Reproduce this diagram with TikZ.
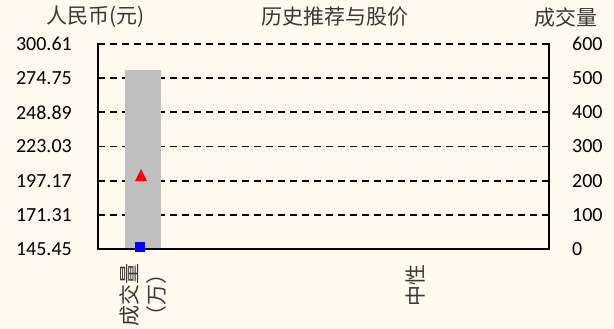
\documentclass[tikz,border=0pt]{standalone}
\usepackage{fontspec}
\setmainfont{Carlito}
\newfontfamily\cjkfont{Noto Sans CJK SC}
\definecolor{bgcream}{HTML}{FEFAEF}
\definecolor{bargray}{HTML}{BFBFBF}
\definecolor{cjkgray}{HTML}{383838}
\begin{document}
\begin{tikzpicture}[x=1pt,y=-1pt,
  numlab/.style={font=\fontsize{20}{24}\selectfont, text=black, inner sep=0pt},
  cjklab/.style={font=\cjkfont\fontsize{21}{27}\selectfont, text=cjkgray, inner sep=0pt},
  gridline/.style={line width=1.8pt, dash pattern=on 7pt off 5pt},
  axisline/.style={line width=2pt, line cap=rect}]
\useasboundingbox[fill=bgcream] (0,0) rectangle (614,329);
% grid
\foreach \yy in {44,78.17,112.33,146.5,180.67,214.83}
  \draw[gridline] (98,\yy) -- (549,\yy);
% bar
\fill[bargray] (125,70) rectangle (161,249);
% axes
\draw[axisline] (98,44) -- (98,249) -- (549,249) -- (549,44);
% markers
\fill[red] (141,169) -- (147,181) -- (135,181) -- cycle;
\fill[blue] (135,242) rectangle (145,252);
% left tick labels
\foreach \yy/\tx in {44/300.61,78.17/274.75,112.33/248.89,146.5/223.03,180.67/197.17,214.83/171.31,249/145.45}
  \node[numlab, anchor=east] at (72,\yy) {\tx};
% right tick labels
\foreach \yy/\tx in {44/600,78.17/500,112.33/400,146.5/300,180.67/200,214.83/100,249/0}
  \node[numlab, anchor=west] at (572,\yy) {\tx};
% titles
\node[cjklab] (ylab) at (96,17) {人民币(元)};
\node[cjklab] (title) at (335,17) {历史推荐与股价};
\node[cjklab] (y2lab) at (566,17) {成交量};
% x labels
\node[cjklab, rotate=90, anchor=east, align=center] (xl1) at (143,263) {成交量\\（万）};
\node[cjklab, rotate=90, anchor=east] (xl2) at (416,264) {中性};
\end{tikzpicture}
\end{document}
